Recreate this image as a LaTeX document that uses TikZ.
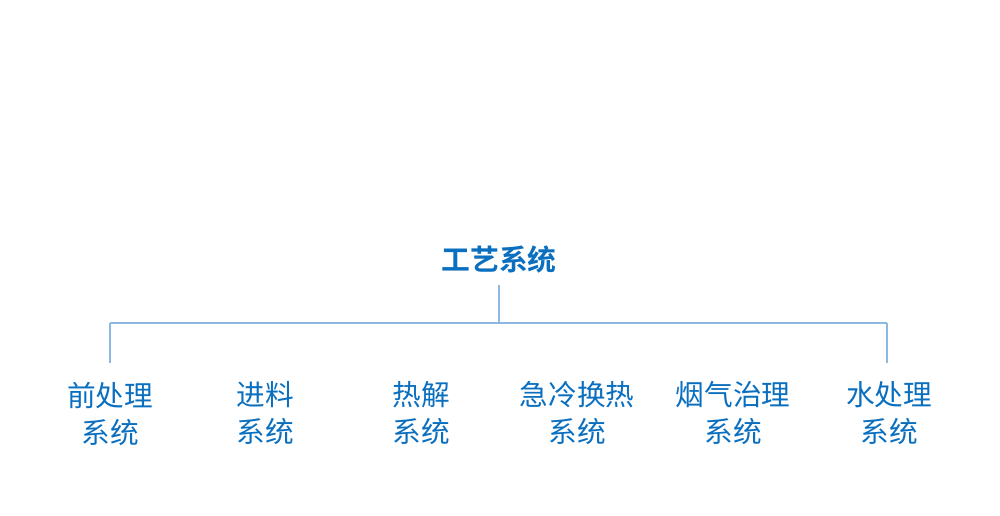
\documentclass[tikz,border=0pt]{standalone}
\usepackage{fontspec}
\newfontfamily\cjk{Noto Sans CJK SC}
\newfontfamily\cjkb{Noto Sans CJK SC Bold}
\definecolor{txtblue}{HTML}{0A6FBF}
\definecolor{lineblue}{HTML}{8DB8E2}
\begin{document}
\begin{tikzpicture}[x=0.75pt,y=-0.75pt,
  child/.style={text=txtblue,font=\cjk\fontsize{21.5}{27.75}\selectfont,align=center,inner sep=0pt},
  rootnode/.style={text=txtblue,font=\cjkb\fontsize{21.6}{27.75}\selectfont,inner sep=0pt},
  conn/.style={draw=lineblue,line width=0.8pt}]
\useasboundingbox (0,0) rectangle (1000,516);
\node[rootnode] (root) at (499,260) {工艺系统};
\node[child] (c1) at (110,413.5) {前处理\\系统};
\node[child] (c2) at (265,413.5) {进料\\系统};
\node[child] (c3) at (421,413.5) {热解\\系统};
\node[child] (c4) at (577,413.5) {急冷换热\\系统};
\node[child] (c5) at (733,413.5) {烟气治理\\系统};
\node[child] (c6) at (889,413.5) {水处理\\系统};
\coordinate (rt) at (499,285);
\coordinate (j) at (499,323);
\coordinate (l) at (110,323);
\coordinate (r) at (887,323);
\coordinate (ld) at (110,363);
\coordinate (rd) at (887,363);
\draw[conn] (rt) -- (j);
\draw[conn] (l) -- (r);
\draw[conn] (l) -- (ld);
\draw[conn] (r) -- (rd);
\end{tikzpicture}
\end{document}
